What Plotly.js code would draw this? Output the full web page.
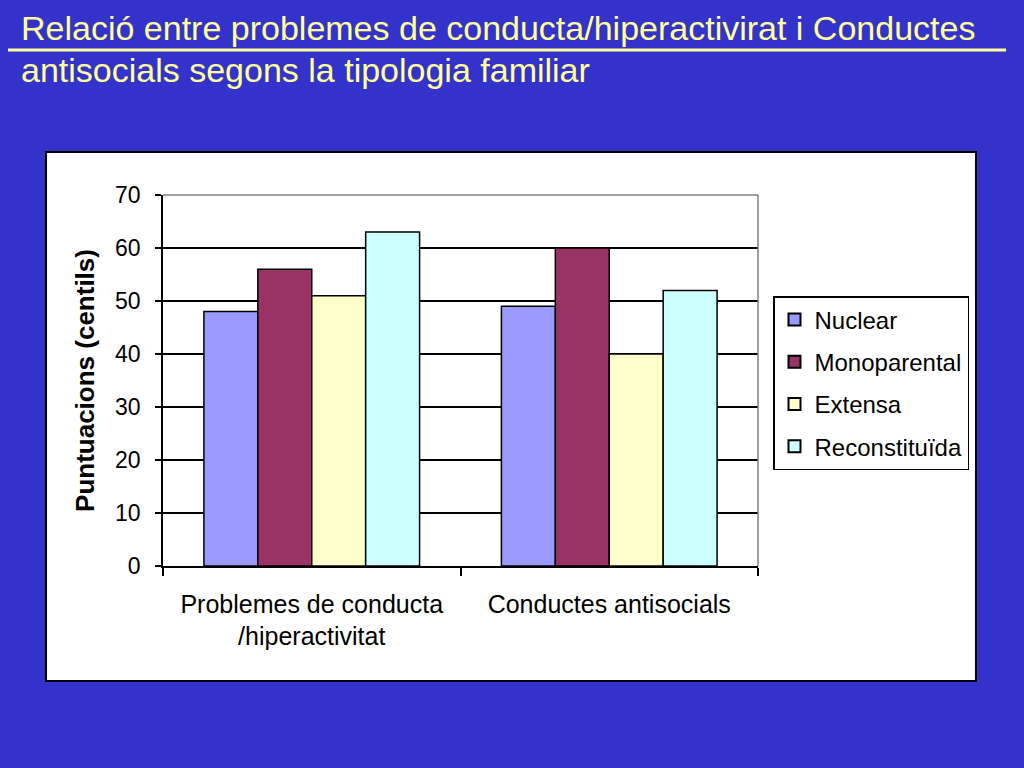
<!DOCTYPE html>
<html>
<head>
<meta charset="utf-8">
<script src="https://cdn.plot.ly/plotly-3.0.1.min.js"></script>
<style>html,body{margin:0;padding:0;background:#3333CC;}#chart{width:1024px;height:768px;}</style>
</head>
<body>
<div id="chart"></div>
<script>
const categories = ["Problemes de conducta<br>/hiperactivitat", "Conductes antisocials"];
const seriesNames = ["Nuclear", "Monoparental", "Extensa", "Reconstituïda"];
const nuclear = [48, 49];
const monoparental = [56, 60];
const extensa = [51, 40];
const reconstituida = [63, 52];
const seriesColors = ["#9999FF", "#993366", "#FFFFCC", "#CCFFFF"];
const yTickVals = [0, 10, 20, 30, 40, 50, 60, 70];
const titleLine1 = "Relació entre problemes de conducta/hiperactivirat i Conductes";
const titleLine2 = "antisocials segons la tipologia familiar";
const yTitle = "Puntuacions (centils)";

const seriesValues = [nuclear, monoparental, extensa, reconstituida];
const traces = seriesValues.map((vals, i) => ({
  type: "bar",
  name: seriesNames[i],
  legendgroup: "g" + i,
  x: categories,
  y: vals,
  marker: {color: seriesColors[i], line: {color: "#000000", width: 1.5}},
  hoverinfo: "x+y+name"
}));

const W = 1024, H = 768;
const L = 163, R = 758, T = 195, B = 566;
const px = v => (v - L) / (R - L);
const py = v => (B - v) / (B - T);

const layout = {
  width: W, height: H,
  paper_bgcolor: "#3333CC",
  plot_bgcolor: "#CCCCCC",
  margin: {l: L, r: W - R, t: T, b: H - B, pad: 0},
  barmode: "group",
  bargap: 0.275,
  bargroupgap: 0,
  font: {family: "Liberation Sans, Arial, sans-serif", color: "#000000"},
  showlegend: true,
  legend: {
    x: px(773), y: py(296), xanchor: "left", yanchor: "top",
    bgcolor: "#FFFFFF", bordercolor: "#000000", borderwidth: 1.5,
    font: {size: 24, color: "#000000"},
    traceorder: "grouped",
    tracegroupgap: 8,
    itemsizing: "constant"
  },
  xaxis: {
    tickson: "boundaries",
    ticks: "outside", ticklen: 8, tickwidth: 1.5, tickcolor: "#000000",
    showline: true, linecolor: "#000000", linewidth: 1.5,
    showgrid: false,
    tickfont: {size: 25, color: "#000000"},
    ticklabelstandoff: 15,
    fixedrange: true
  },
  yaxis: {
    range: [0, 70],
    tickvals: yTickVals,
    ticks: "outside", ticklen: 6, tickwidth: 1.5, tickcolor: "#000000",
    showline: true, linecolor: "#000000", linewidth: 1.5,
    showgrid: true, gridcolor: "#000000", gridwidth: 1.5,
    zeroline: false,
    tickfont: {size: 23, color: "#000000"},
    ticklabelstandoff: 10,
    title: {text: yTitle, font: {size: 26, color: "#000000", weight: "bold"}, standoff: 13},
    fixedrange: true
  },
  shapes: [
    {type: "rect", xref: "paper", yref: "paper", x0: px(46), x1: px(976), y0: py(681), y1: py(152),
     fillcolor: "#FFFFFF", line: {color: "#000000", width: 2}, layer: "below"},
    {type: "line", xref: "paper", yref: "paper", x0: px(8), x1: px(1006), y0: py(50), y1: py(50),
     line: {color: "#FFFF99", width: 3}},
    {type: "line", xref: "paper", yref: "paper", x0: 0, x1: 1, y0: 1, y1: 1,
     line: {color: "#808080", width: 1.5}},
    {type: "line", xref: "paper", yref: "paper", x0: 1, x1: 1, y0: 0, y1: 1,
     line: {color: "#808080", width: 1.5}}
  ],
  annotations: [
    {text: titleLine1, xref: "paper", yref: "paper", x: px(19), y: py(28), xanchor: "left", yanchor: "middle",
     showarrow: false, font: {size: 34, color: "#FFFF99"}},
    {text: titleLine2, xref: "paper", yref: "paper", x: px(19), y: py(70), xanchor: "left", yanchor: "middle",
     showarrow: false, font: {size: 34, color: "#FFFF99"}}
  ]
};

Plotly.newPlot("chart", traces, layout, {displayModeBar: false});
</script>
</body>
</html>
